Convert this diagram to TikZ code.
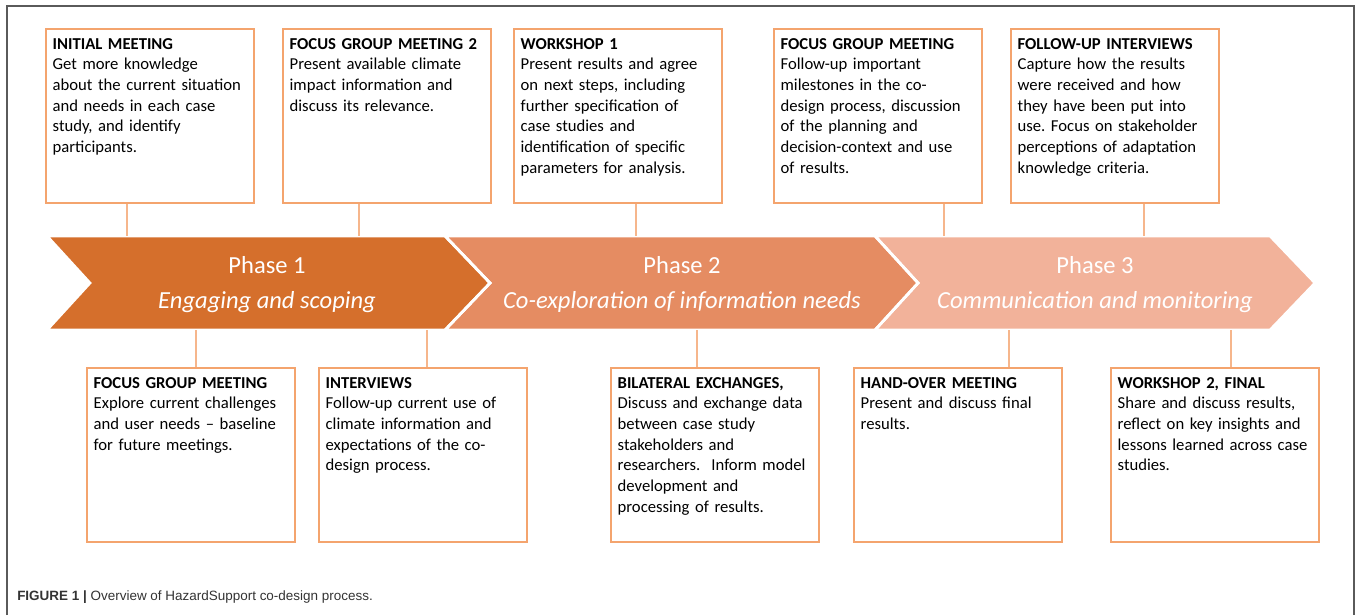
\documentclass[tikz,border=0pt]{standalone}
\usepackage{fontspec}
\setmainfont{Carlito}
\newfontfamily\capfont{Liberation Sans}
\usetikzlibrary{positioning}
\frenchspacing

\definecolor{phaseone}{RGB}{213,111,44}
\definecolor{phasetwo}{RGB}{229,140,98}
\definecolor{phasethree}{RGB}{242,178,154}
\definecolor{boxline}{RGB}{244,164,110}
\definecolor{linkline}{RGB}{246,182,140}
\definecolor{framegray}{RGB}{90,90,90}

\tikzset{
  eventbox/.style = {
    rectangle, draw = boxline, line width = 1.5pt, fill = white,
    anchor = north west, align = left, text width = 146pt,
    inner xsep = 5pt, inner ysep = 6pt,
    text height = 9pt, text depth = 109.5pt,
    font = \fontsize{12.5}{15.5}\selectfont
  },
  link/.style = { draw = linkline, line width = 1.5pt },
  phase/.style = { draw = white, line width = 2pt },
  phasetitle/.style = { text = white, font = \fontsize{18.4}{21}\selectfont },
  phasesub/.style = { text = white, font = \fontsize{18.4}{21}\selectfont\itshape }
}

\begin{document}
\begin{tikzpicture}[x = 0.75pt, y = -0.75pt]
  \useasboundingbox (0,0) rectangle (1357,615);
  \draw [framegray, line width = 1pt] (7,615) -- (7,6) -- (1354,6) -- (1354,615);

  % phase band
  \coordinate (bandtop) at (0,236);
  \coordinate (bandbot) at (0,330);
  \fill [phasethree, phase] (875,236) -- (1270,236) -- (1315,283) -- (1270,330)
    -- (875,330) -- (918,283) -- cycle;
  \fill [phasetwo, phase] (445,236) -- (875,236) -- (918,283) -- (875,330)
    -- (445,330) -- (490,283) -- cycle;
  \fill [phaseone, phase] (47,236) -- (445,236) -- (490,283) -- (445,330)
    -- (47,330) -- (90,283) -- cycle;
  \draw [phase] (445,236) -- (490,283) -- (445,330);
  \draw [phase] (875,236) -- (918,283) -- (875,330);

  \node [phasetitle] (p1) at (267,265) {Phase 1};
  \node [phasesub, below = 6pt of p1.south, anchor = north] (p1sub) {Engaging and scoping};
  \node [phasetitle] (p2) at (682,265) {Phase 2};
  \node [phasesub, below = 6pt of p2.south, anchor = north] (p2sub) {Co-exploration of information needs};
  \node [phasetitle] (p3) at (1095,265) {Phase 3};
  \node [phasesub, below = 6pt of p3.south, anchor = north] (p3sub) {Communication and monitoring};

  % upper events
  \node [eventbox] (im) at (45,28) {\textbf{INITIAL MEETING}\\
    Get more knowledge\\ about the current situation\\ and needs in each case\\
    study, and identify\\ participants.};
  \node [eventbox] (fg2) at (282,28) {\textbf{FOCUS GROUP MEETING 2}\\
    Present available climate\\ impact information and\\ discuss its relevance.};
  \node [eventbox] (ws1) at (513,28) {\textbf{WORKSHOP 1}\\
    Present results and agree\\ on next steps, including\\ further specification of\\
    case studies and\\ identification of specific\\ parameters for analysis.};
  \node [eventbox] (fgm) at (773,28) {\textbf{FOCUS GROUP MEETING}\\
    Follow-up important\\ milestones in the co-\\ design process, discussion\\
    of the planning and\\ decision-context and use\\ of results.};
  \node [eventbox] (fui) at (1010,28) {\textbf{FOLLOW-UP INTERVIEWS}\\
    Capture how the results\\ were received and how\\ they have been put into\\
    use. Focus on stakeholder\\ perceptions of adaptation\\ knowledge criteria.};

  % lower events
  \node [eventbox] (fg1) at (86,367) {\textbf{FOCUS GROUP MEETING}\\
    Explore current challenges\\ and user needs -- baseline\\ for future meetings.};
  \node [eventbox] (iv) at (318,367) {\textbf{INTERVIEWS}\\
    Follow-up current use of\\ climate information and\\ expectations of the co-\\
    design process.};
  \node [eventbox] (bx) at (610,367) {\textbf{BILATERAL EXCHANGES,}\\
    Discuss and exchange data\\ between case study\\ stakeholders and\\
    researchers.\ \ Inform model\\ development and\\ processing of results.};
  \node [eventbox] (ho) at (853,367) {\textbf{HAND-OVER MEETING}\\
    Present and discuss final\\ results.};
  \node [eventbox] (ws2) at (1110,367) {\textbf{WORKSHOP 2, FINAL}\\
    Share and discuss results,\\ reflect on key insights and\\ lessons learned across case\\
    studies.};

  % ticks to the band
  \draw [link] (im.south -| 127,0) -- (127,0 |- bandtop);
  \draw [link] (fg2.south -| 359,0) -- (359,0 |- bandtop);
  \draw [link] (ws1.south -| 636,0) -- (636,0 |- bandtop);
  \draw [link] (fgm.south -| 944,0) -- (944,0 |- bandtop);
  \draw [link] (fui.south -| 1144,0) -- (1144,0 |- bandtop);
  \draw [link] (fg1.north -| 196,0) -- (196,0 |- bandbot);
  \draw [link] (iv.north -| 427,0) -- (427,0 |- bandbot);
  \draw [link] (bx.north -| 697,0) -- (697,0 |- bandbot);
  \draw [link] (ho.north -| 1009,0) -- (1009,0 |- bandbot);
  \draw [link] (ws2.north -| 1231,0) -- (1231,0 |- bandbot);

  \node [anchor = west, inner sep = 0pt, text = black!80, font = \capfont\fontsize{10.1}{12}\selectfont]
    (caption) at (17,597) {\textbf{FIGURE 1 |} Overview of HazardSupport co-design process.};
\end{tikzpicture}
\end{document}
